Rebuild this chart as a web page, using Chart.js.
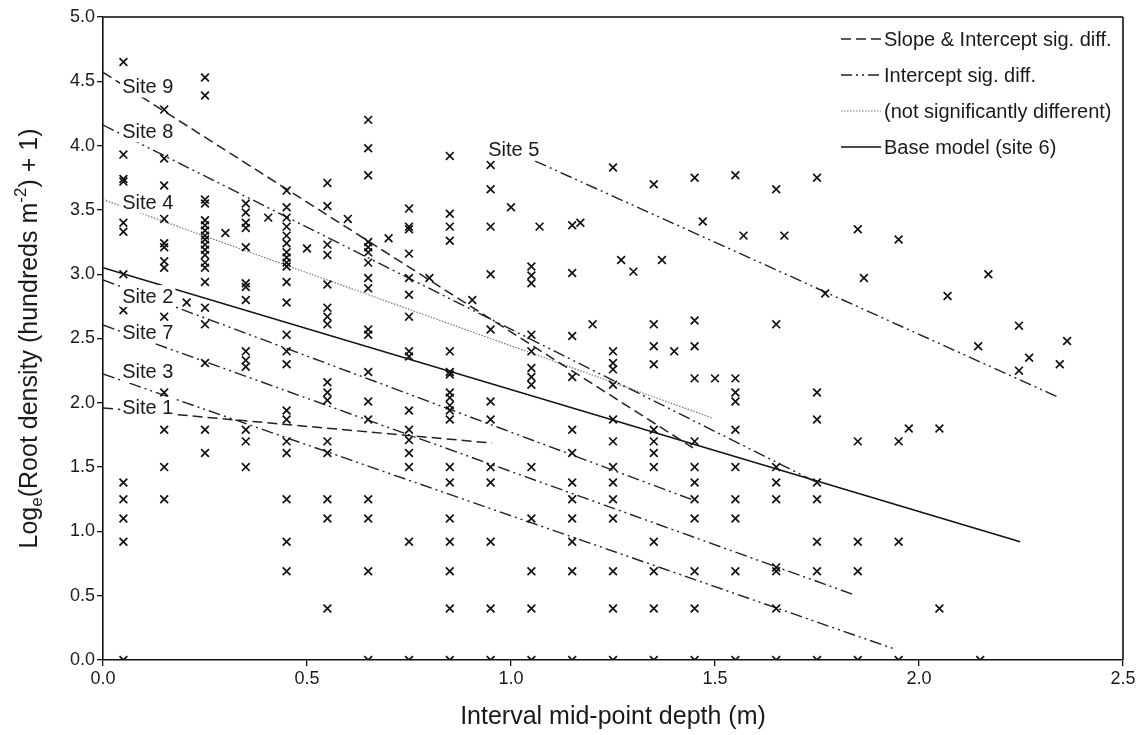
<!DOCTYPE html>
<html lang="en">
<head>
  <meta charset="UTF-8" />
  <title>Root density by depth</title>
  <script src="https://cdn.jsdelivr.net/npm/chart.js"></script>
  <style>
    html, body { margin: 0; padding: 0; background: #fff; }
    canvas { display: block; }
  </style>
</head>
<body>
  <canvas id="rootChart" width="1146" height="735"></canvas>

  <script>
    // sampled depth intervals (mid-points, m) and the observed values in each
    const colDepths = [0.05, 0.15, 0.25, 0.35, 0.45, 0.55, 0.65, 0.75, 0.85, 0.95, 1.05,
                       1.15, 1.25, 1.35, 1.45, 1.55, 1.65, 1.75, 1.85, 1.95, 2.15];
    const colValues = [
      [4.65, 3.93, 3.74, 3.72, 3.40, 3.33, 3.00, 2.72, 1.38, 1.25, 1.10, 0.92, 0],
      [4.28, 3.90, 3.69, 3.43, 3.24, 3.21, 3.10, 3.05, 2.67, 2.08, 1.79, 1.50, 1.25],
      [4.53, 4.39, 3.58, 3.55, 3.42, 3.38, 3.34, 3.30, 3.27, 3.23, 3.19, 3.15, 3.09, 3.05, 2.94, 2.74, 2.61, 2.31, 1.79, 1.61],
      [3.55, 3.48, 3.40, 3.36, 3.21, 2.93, 2.90, 2.80, 2.40, 2.33, 2.28, 1.79, 1.70, 1.50],
      [3.65, 3.52, 3.44, 3.37, 3.30, 3.24, 3.17, 3.13, 3.09, 3.06, 2.94, 2.78, 2.53, 2.40, 2.30, 1.94, 1.87, 1.70, 1.61, 1.25, 0.92, 0.69],
      [3.71, 3.53, 3.23, 3.15, 2.92, 2.74, 2.67, 2.61, 2.16, 2.08, 2.02, 1.70, 1.61, 1.25, 1.10, 0.40],
      [4.20, 3.98, 3.77, 3.25, 3.21, 3.17, 3.09, 2.97, 2.89, 2.57, 2.53, 2.24, 2.01, 1.87, 1.25, 1.10, 0.69, 0],
      [3.51, 3.37, 3.35, 3.16, 2.97, 2.84, 2.67, 2.40, 2.36, 1.94, 1.79, 1.71, 1.61, 1.50, 0.92, 0],
      [3.92, 3.47, 3.37, 3.26, 2.40, 2.24, 2.22, 2.08, 2.04, 1.98, 1.94, 1.87, 1.50, 1.38, 1.10, 0.92, 0.69, 0.40, 0],
      [3.85, 3.66, 3.37, 3.00, 2.57, 2.01, 1.87, 1.50, 1.38, 0.92, 0.40, 0],
      [3.06, 2.99, 2.93, 2.53, 2.40, 2.27, 2.20, 2.14, 1.50, 1.10, 0.69, 0.40, 0],
      [3.38, 3.01, 2.52, 2.20, 1.79, 1.61, 1.38, 1.25, 1.10, 0.92, 0.69, 0],
      [3.83, 2.40, 2.31, 2.26, 2.14, 1.87, 1.70, 1.50, 1.38, 1.25, 1.10, 0.69, 0.40, 0],
      [3.70, 2.61, 2.44, 2.30, 1.79, 1.70, 1.61, 1.50, 0.92, 0.69, 0.40, 0],
      [3.75, 2.64, 2.44, 2.19, 1.70, 1.50, 1.38, 1.25, 1.10, 0.69, 0.40, 0],
      [3.77, 2.19, 2.08, 2.01, 1.79, 1.50, 1.25, 1.10, 0.69, 0],
      [3.66, 2.61, 1.50, 1.38, 1.25, 0.72, 0.69, 0.40, 0],
      [3.75, 2.08, 1.87, 1.38, 1.25, 0.92, 0.69, 0],
      [3.35, 1.70, 0.92, 0.69, 0],
      [3.27, 1.70, 0.92, 0],
      [0]
    ];

    // observations at irregular interval depths
    const oddDepths = [0.205, 0.30, 0.405, 0.50, 0.60, 0.70, 0.80, 0.905, 1.00, 1.07, 1.17, 1.20,
                       1.27, 1.30, 1.37, 1.40, 1.47, 1.50, 1.57, 1.67, 1.77, 1.865, 1.975, 2.05,
                       2.05, 2.07, 2.17, 2.145, 2.245, 2.27, 2.245, 2.345, 2.363];
    const oddValues = [2.78, 3.32, 3.44, 3.20, 3.43, 3.28, 2.97, 2.80, 3.52, 3.37, 3.40, 2.61,
                       3.11, 3.02, 3.11, 2.40, 3.41, 2.19, 3.30, 3.30, 2.85, 2.97, 1.80, 1.80,
                       0.40, 2.83, 3.00, 2.44, 2.60, 2.35, 2.25, 2.30, 2.48];

    // fitted lines per site: start and end (depth, value)
    const siteNames = ['Site 9', 'Site 8', 'Site 4', 'Site 6', 'Site 2', 'Site 7', 'Site 3', 'Site 1', 'Site 5'];
    const fitGroup  = ['slope', 'intercept', 'ns', 'base', 'intercept', 'intercept', 'intercept', 'slope', 'intercept'];
    const fitX0 = [0, 0, 0, 0, 0, 0, 0, 0, 1.059];
    const fitY0 = [4.57, 4.16, 3.58, 3.05, 2.955, 2.605, 2.224, 1.96, 3.88];
    const fitX1 = [1.446, 1.75, 1.495, 2.248, 1.446, 1.843, 1.936, 0.953, 2.346];
    const fitY1 = [1.65, 1.38, 1.88, 0.92, 1.244, 0.505, 0.09, 1.687, 2.037];

    // where the site names sit (left edge, middle) in data units
    const tagNames = ['Site 9', 'Site 8', 'Site 4', 'Site 2', 'Site 7', 'Site 3', 'Site 1', 'Site 5'];
    const tagX = [0.047, 0.047, 0.047, 0.047, 0.047, 0.047, 0.047, 0.944];
    const tagY = [4.46, 4.11, 3.56, 2.83, 2.55, 2.24, 1.96, 3.97];

    const legendKeys  = ['slope', 'intercept', 'ns', 'base'];
    const legendNames = ['Slope & Intercept sig. diff.', 'Intercept sig. diff.',
                         '(not significantly different)', 'Base model (site 6)'];

    const FONT = "'Liberation Sans', Arial, sans-serif";
    const INK = '#1a1a1a';

    const lineStyle = {
      slope:     { dash: [10, 5], width: 1.5, color: '#222' },
      intercept: { dash: [12, 4, 2, 4, 2, 4], width: 1.4, color: '#222' },
      ns:        { dash: [1.5, 1.5], width: 1.2, color: '#777' },
      base:      { dash: [], width: 1.6, color: '#111' }
    };

    const points = [];
    colDepths.forEach((d, i) => colValues[i].forEach(v => points.push({ x: d, y: v })));
    oddDepths.forEach((d, i) => points.push({ x: d, y: oddValues[i] }));

    const fitSets = siteNames.map((name, i) => {
      const st = lineStyle[fitGroup[i]];
      return {
        label: name,
        data: [{ x: fitX0[i], y: fitY0[i] }, { x: fitX1[i], y: fitY1[i] }],
        showLine: true,
        pointRadius: 0,
        borderColor: st.color,
        borderWidth: st.width,
        borderDash: st.dash,
        fill: false
      };
    });

    // outer box: top and right edges of the plot
    const frame = {
      id: 'frame',
      afterDraw(chart) {
        const { ctx, chartArea: a } = chart;
        ctx.save();
        ctx.strokeStyle = '#444';
        ctx.lineWidth = 2;
        ctx.beginPath();
        ctx.moveTo(a.left, a.top);
        ctx.lineTo(a.right, a.top);
        ctx.stroke();
        ctx.strokeStyle = '#111';
        ctx.lineWidth = 1.6;
        ctx.beginPath();
        ctx.moveTo(a.right, a.top);
        ctx.lineTo(a.right, a.bottom);
        ctx.stroke();
        ctx.restore();
      }
    };

    // site names on white boxes over the lines
    const siteTags = {
      id: 'siteTags',
      afterDatasetsDraw(chart) {
        const { ctx, scales: { x, y } } = chart;
        ctx.save();
        ctx.font = '20px ' + FONT;
        ctx.textBaseline = 'middle';
        tagNames.forEach((t, i) => {
          const px = x.getPixelForValue(tagX[i]);
          const py = y.getPixelForValue(tagY[i]);
          const w = ctx.measureText(t).width;
          ctx.fillStyle = '#fff';
          ctx.fillRect(px - 2, py - 11, w + 4, 22);
          ctx.fillStyle = INK;
          ctx.fillText(t, px, py + 1);
        });
        ctx.restore();
      }
    };

    // legend drawn inside the plot, top right
    const keyBox = {
      id: 'keyBox',
      afterDraw(chart) {
        const { ctx } = chart;
        ctx.save();
        ctx.font = '20px ' + FONT;
        ctx.textBaseline = 'middle';
        legendKeys.forEach((k, i) => {
          const st = lineStyle[k];
          const yy = 39 + i * 36;
          ctx.strokeStyle = st.color;
          ctx.lineWidth = st.width;
          ctx.setLineDash(k === 'intercept' ? [11, 4, 2, 4, 2, 4] : st.dash);
          ctx.beginPath();
          ctx.moveTo(841, yy);
          ctx.lineTo(881, yy);
          ctx.stroke();
          ctx.setLineDash([]);
          ctx.fillStyle = INK;
          ctx.fillText(legendNames[i], 884, yy + 1);
        });
        ctx.restore();
      }
    };

    // axis titles (y title carries a subscript and a superscript)
    const axisTitles = {
      id: 'axisTitles',
      afterDraw(chart) {
        const { ctx, chartArea: a } = chart;
        ctx.save();
        ctx.fillStyle = INK;
        ctx.textBaseline = 'middle';
        ctx.textAlign = 'center';
        ctx.font = '25px ' + FONT;
        ctx.fillText('Interval mid-point depth (m)', (a.left + a.right) / 2, 717);

        const parts = [
          ['Log', 25, 0], ['e', 17, 7], ['(Root density (hundreds m', 25, 0],
          ['-2', 17, -9], [') + 1)', 25, 0]
        ];
        let total = 0;
        parts.forEach(p => { ctx.font = p[1] + 'px ' + FONT; total += ctx.measureText(p[0]).width; });
        ctx.translate(30, (a.top + a.bottom) / 2);
        ctx.rotate(-Math.PI / 2);
        ctx.textAlign = 'left';
        let cx = -total / 2;
        parts.forEach(p => {
          ctx.font = p[1] + 'px ' + FONT;
          ctx.fillText(p[0], cx, p[2]);
          cx += ctx.measureText(p[0]).width;
        });
        ctx.restore();
      }
    };

    const tickFont = { family: FONT, size: 18 };

    new Chart(document.getElementById('rootChart'), {
      type: 'scatter',
      data: {
        datasets: [
          {
            label: 'observed',
            data: points,
            pointStyle: 'crossRot',
            pointRadius: 5.5,
            pointBorderWidth: 1.7,
            borderColor: '#111',
            backgroundColor: '#111'
          },
          ...fitSets
        ]
      },
      options: {
        responsive: false,
        animation: false,
        layout: { padding: { top: 17, right: 23, left: 0, bottom: 0 } },
        plugins: { legend: { display: false }, tooltip: { enabled: false } },
        scales: {
          x: {
            type: 'linear',
            min: 0, max: 2.5,
            ticks: { stepSize: 0.5, maxRotation: 0, padding: 2, color: INK, font: tickFont,
                     callback: v => v.toFixed(1) },
            grid: { drawOnChartArea: false, drawTicks: true, tickLength: 6, color: '#111', lineWidth: 1.3 },
            border: { display: true, color: '#111', width: 1.6 },
            afterFit: s => { s.height = 75; }
          },
          y: {
            min: 0, max: 5,
            ticks: { stepSize: 0.5, padding: 2, color: INK, font: tickFont,
                     callback: v => v.toFixed(1) },
            grid: { drawOnChartArea: false, drawTicks: true, tickLength: 6, color: '#111', lineWidth: 1.3 },
            border: { display: true, color: '#111', width: 1.6 },
            afterFit: s => { s.width = 103; }
          }
        }
      },
      plugins: [frame, siteTags, keyBox, axisTitles]
    });
  </script>
</body>
</html>
